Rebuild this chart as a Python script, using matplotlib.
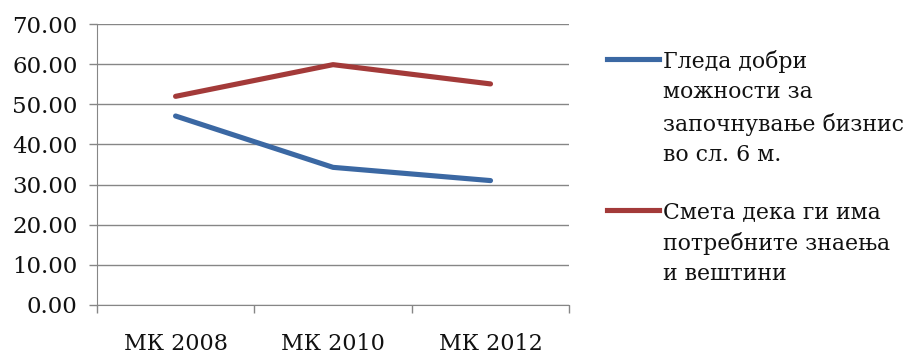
#coding: utf-8
import matplotlib
matplotlib.use('Agg')
import matplotlib.pyplot as plt
from matplotlib.lines import Line2D
from matplotlib.ticker import FormatStrFormatter

'''
gledanje na moznosti i znaenja -- MK 2008/2010/2012
'''

godini=['МК 2008','МК 2010','МК 2012']
moznosti=[47.1,34.3,31.0]
znaenja=[52.0,59.9,55.1]
iminja=['Гледа добри\nможности за\nзапочнување бизнис\nво сл. 6 м.',
	'Смета дека ги има\nпотребните знаења\nи вештини']
boi=['#3b68a3','#a33a39']

plt.rcParams['font.family']=['DejaVu Serif']

fig=plt.figure(figsize=(9.05,3.55),dpi=100)
ax=fig.add_axes([0.107,0.141,0.522,0.791])

x=range(len(godini))
ax.plot(x,moznosti,color=boi[0],lw=3.7,solid_capstyle='round',zorder=3)
ax.plot(x,znaenja,color=boi[1],lw=3.7,solid_capstyle='round',zorder=3)

ax.set_xlim(-0.5,len(godini)-0.5)
ax.set_ylim(0,70)
ax.set_yticks(range(0,71,10))
ax.yaxis.set_major_formatter(FormatStrFormatter('%.2f'))
ax.grid(axis='y',color='#868686',lw=1.0)
ax.set_axisbelow(True)

# kategorii: oznaki vo sredina, crticki na granicite
ax.set_xticks([i-0.5 for i in range(len(godini)+1)])
ax.set_xticklabels([])
ax.set_xticks(list(x),minor=True)
ax.set_xticklabels(godini,minor=True,fontsize=16,color='#111111')
ax.tick_params(axis='x',which='minor',length=0,pad=20)
ax.tick_params(axis='x',which='major',length=6,color='#868686',width=1)
ax.tick_params(axis='y',length=6,color='#868686',width=1,labelsize=16.5,labelcolor='#111111',pad=8)

for s in ['top','right']:
	ax.spines[s].set_visible(False)
ax.spines['left'].set_color('#868686')
ax.spines['bottom'].set_color('#868686')

# legenda racno
W,H=905.,355.
leg_y=[59,210]
for i,(ime,boja) in enumerate(zip(iminja,boi)):
	yy=1-leg_y[i]/H
	fig.add_artist(Line2D([607/W,659/W],[yy,yy],color=boja,lw=3.7,transform=fig.transFigure))
	fig.text(663/W,1-(leg_y[i]-9)/H,ime,fontsize=15.8,va='top',ha='left',
		linespacing=1.5,color='#111111')

fig.savefig('out.png',dpi=100)
